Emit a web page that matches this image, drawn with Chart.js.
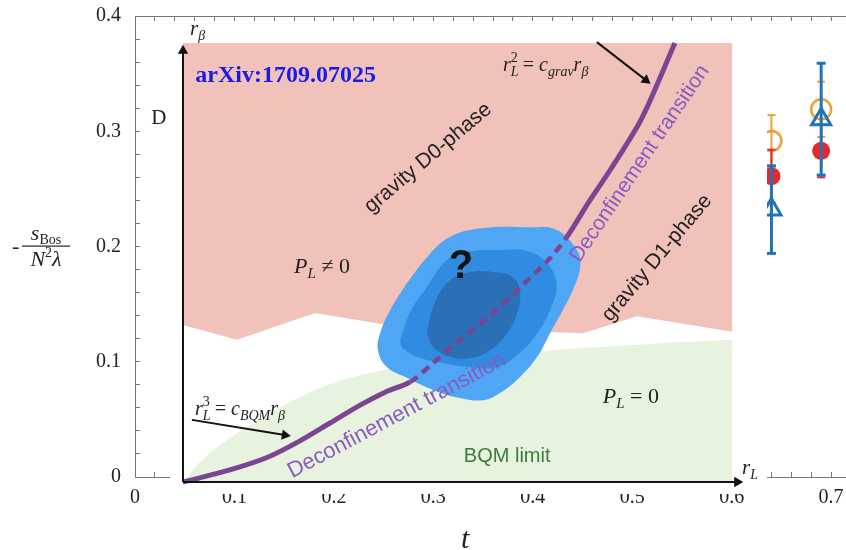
<!DOCTYPE html>
<html>
<head>
<meta charset="utf-8">
<script src="https://cdn.jsdelivr.net/npm/chart.js@4.4.1/dist/chart.umd.min.js"></script>
<style>
  html, body { margin: 0; padding: 0; background: #fff; overflow: hidden; }
  #wrap { position: relative; width: 846px; height: 550px; overflow: hidden; }
  #frameChart { position: absolute; left: 0; top: 0; }
  #phaseChart { position: absolute; left: 170px; top: 21px; background: #fff; }
</style>
</head>
<body>
<div id="wrap">
  <canvas id="frameChart" width="880" height="550"></canvas>
  <canvas id="phaseChart" width="597" height="473"></canvas>
</div>
<script>
// lattice points: temperature t, value and error of each series
const tValues = [0.64, 0.69];
const orangeVals = [0.2915, 0.319];
const orangeErrs = [0.0225, 0.024];
const redVals = [0.261, 0.283];
const redErrs = [0.023, 0.023];
const blueVals = [0.232, 0.3105];
const blueErrs = [0.038, 0.0485];

const xTickLabels = ["0", "0.1", "0.2", "0.3", "0.4", "0.5", "0.6", "0.7"];
const yTickLabels = ["0", "0.1", "0.2", "0.3", "0.4"];

// phase diagram sketch, in (r_L, r_beta) units of the inset axes
const gravityRegion = [[0, 0.982], [0.986, 0.982], [0.986, 0.336], [0.815, 0.371], [0.718, 0.333],
  [0.390, 0.347], [0.237, 0.378], [0.097, 0.318], [0, 0.351], [0, 0.982]];
const bqmEdge = [[0, 0], [0.0305, 0.0447], [0.0664, 0.0828], [0.120, 0.1275], [0.192, 0.179],
  [0.246, 0.210], [0.300, 0.233], [0.390, 0.257], [0.479, 0.273], [0.605, 0.289],
  [0.718, 0.300], [0.838, 0.309], [0.986, 0.318]];
const blobOuter = [[0.402, 0.445], [0.438, 0.503], [0.479, 0.548], [0.539, 0.568], [0.623, 0.570],
  [0.671, 0.564], [0.707, 0.519], [0.713, 0.481], [0.700, 0.430], [0.682, 0.385], [0.659, 0.333],
  [0.636, 0.280], [0.605, 0.235], [0.569, 0.199], [0.539, 0.183], [0.497, 0.188], [0.449, 0.206],
  [0.402, 0.233], [0.366, 0.257], [0.350, 0.295], [0.354, 0.333], [0.372, 0.385], [0.402, 0.445]];
const blobMiddle = [[0.390, 0.318], [0.408, 0.380], [0.438, 0.436], [0.474, 0.497], [0.510, 0.515],
  [0.569, 0.519], [0.623, 0.515], [0.659, 0.481], [0.671, 0.436], [0.659, 0.385], [0.636, 0.333],
  [0.605, 0.289], [0.564, 0.257], [0.515, 0.257], [0.467, 0.266], [0.420, 0.280], [0.393, 0.302],
  [0.390, 0.318]];
const blobInner = [[0.438, 0.333], [0.449, 0.391], [0.474, 0.445], [0.510, 0.468], [0.557, 0.470],
  [0.592, 0.459], [0.605, 0.423], [0.600, 0.378], [0.582, 0.333], [0.551, 0.295], [0.515, 0.277],
  [0.479, 0.280], [0.449, 0.302], [0.438, 0.333]];
const transitionLine = [[0, 0], [0.084, 0.027], [0.153, 0.056], [0.210, 0.092], [0.264, 0.132],
  [0.318, 0.172], [0.363, 0.201], [0.408, 0.224], [0.449, 0.266], [0.497, 0.318], [0.557, 0.378],
  [0.610, 0.441], [0.659, 0.501], [0.689, 0.548], [0.731, 0.631], [0.767, 0.698], [0.820, 0.805],
  [0.847, 0.877], [0.883, 0.982]];
const dashedFrom = 7, dashedTo = 13;
const rBetaAxis = [[0, 0], [0, 0.965]];
const rLAxis = [[0, 0], [0.995, 0]];
const gravArrow = [[0.743, 0.984], [0.831, 0.899]];
const bqmArrow = [[0.016, 0.139], [0.183, 0.105]];

const pts = arr => arr.map(p => ({ x: p[0], y: p[1] }));

function errorBar(vals, errs) {
    const out = [];
    tValues.forEach((t, i) => {
        out.push({ x: t, y: vals[i] - errs[i] }, { x: t, y: vals[i] + errs[i] }, { x: t, y: NaN });
    });
    return out;
}

function markers(vals) {
    return tValues.map((t, i) => ({ x: t, y: vals[i] }));
}

function tickLabel(v, labels) {
    const k = Math.round(v * 10);
    return Math.abs(v * 10 - k) < 1e-6 && labels[k] !== undefined ? labels[k] : "";
}

const serif = "Liberation Serif";
const sans = "Liberation Sans";
const I = s => `italic ${s}px "${serif}"`;
const R = s => `${s}px "${serif}"`;

// draws a run of text pieces [text, font, dy, noAdvance] starting at x (or centred on x)
function mathRun(ctx, pieces, x, y, centred) {
    let w = 0;
    pieces.forEach(p => { ctx.font = p[1]; if (!p[3]) w += ctx.measureText(p[0]).width; });
    let cx = centred ? x - w / 2 : x;
    ctx.textAlign = "left";
    ctx.textBaseline = "alphabetic";
    pieces.forEach(p => {
        ctx.font = p[1];
        ctx.fillText(p[0], cx, y + (p[2] || 0));
        if (!p[3]) cx += ctx.measureText(p[0]).width;
    });
}

const frameTicks = {
    type: "linear",
    min: 0,
    border: { color: "#777", width: 1 },
    grid: { drawOnChartArea: false, tickLength: -5, color: "#777" }
};

const frameText = {
    id: "frameText",
    afterDraw(chart) {
        const ctx = chart.ctx;
        const { x, y } = chart.scales;
        const mid = y.getPixelForValue(0.2);
        ctx.save();
        ctx.fillStyle = "#222";
        // vertical axis title
        ctx.font = R(22);
        ctx.textAlign = "left";
        ctx.fillText("-", 12, mid + 6);
        mathRun(ctx, [["s", I(22)], ["Bos", R(14), 4]], 46, mid - 7, true);
        ctx.fillRect(22, mid - 1, 48, 1.2);
        mathRun(ctx, [["N", I(22)], ["2", R(14), -9], ["\u03bb", I(22)]], 46, mid + 19, true);
        // horizontal axis title
        ctx.font = I(30);
        ctx.textAlign = "center";
        ctx.fillText("t", x.getPixelForValue(0.332), 548);
        ctx.font = R(21);
        ctx.fillText("D", x.getPixelForValue(0.024), y.getPixelForValue(0.306));
        ctx.restore();
    }
};

new Chart(document.getElementById("frameChart"), {
    type: "scatter",
    data: {
        datasets: [
            { data: errorBar(orangeVals, orangeErrs), showLine: true, spanGaps: false, borderColor: "#eaa23a",
              borderWidth: 2, pointStyle: "line", pointRadius: 4, pointBorderColor: "#eaa23a", pointBorderWidth: 2, order: 6 },
            { data: markers(orangeVals), pointStyle: "circle", pointRadius: 10, pointBorderWidth: 2.5,
              pointBorderColor: "#eaa23a", pointBackgroundColor: "rgba(0,0,0,0)", order: 5 },
            { data: errorBar(redVals, redErrs), showLine: true, spanGaps: false, borderColor: "#e8262b",
              borderWidth: 2, pointStyle: "line", pointRadius: 4, pointBorderColor: "#e8262b", pointBorderWidth: 2, order: 4 },
            { data: markers(redVals), pointStyle: "circle", pointRadius: 9, pointBorderWidth: 0,
              pointBackgroundColor: "#e8262b", order: 3 },
            { data: errorBar(blueVals, blueErrs), showLine: true, spanGaps: false, borderColor: "#2174b4",
              borderWidth: 3, pointStyle: "line", pointRadius: 4.5, pointBorderColor: "#2174b4", pointBorderWidth: 3, order: 2 },
            { data: markers(blueVals), pointStyle: "triangle", pointRadius: 11, pointBorderWidth: 3,
              pointBorderColor: "#2174b4", pointBackgroundColor: "rgba(0,0,0,0)", order: 1 }
        ]
    },
    options: {
        responsive: false,
        animation: false,
        events: [],
        layout: { padding: { left: 0, right: 29, top: 0, bottom: 0 } },
        plugins: { legend: { display: false }, tooltip: { enabled: false } },
        scales: {
            x: {
                ...frameTicks,
                position: "bottom",
                max: 0.72,
                afterFit: s => { s.height = 73; },
                ticks: { stepSize: 0.02, maxTicksLimit: 100, autoSkip: false, maxRotation: 0, padding: 14,
                         color: "#222", font: { family: serif, size: 20 }, callback: v => tickLabel(v, xTickLabels) }
            },
            xTop: {
                ...frameTicks,
                axis: "x",
                position: "top",
                max: 0.72,
                afterFit: s => { s.height = 16; },
                ticks: { stepSize: 0.02, maxTicksLimit: 100, autoSkip: false, callback: () => "" }
            },
            y: {
                ...frameTicks,
                position: "left",
                max: 0.4,
                // fixed width; the label padding must not push the plot area down
                afterFit: s => { s.width = 135; s.paddingTop = 0; s.paddingBottom = 0; },
                ticks: { stepSize: 0.02, maxTicksLimit: 100, autoSkip: false, padding: 19,
                         color: "#222", font: { family: serif, size: 20 }, callback: v => tickLabel(v, yTickLabels) }
            }
        }
    },
    plugins: [frameText]
});

const phaseText = {
    id: "phaseText",
    afterDatasetsDraw(chart) {
        const ctx = chart.ctx;
        const { x, y } = chart.scales;
        const px = u => x.getPixelForValue(u);
        const py = v => y.getPixelForValue(v);
        const turned = (text, u, v, deg, font, color) => {
            ctx.save();
            ctx.translate(px(u), py(v));
            ctx.rotate(deg * Math.PI / 180);
            ctx.font = font;
            ctx.fillStyle = color;
            ctx.textAlign = "center";
            ctx.textBaseline = "middle";
            ctx.fillText(text, 0, 0);
            ctx.restore();
        };
        ctx.save();
        ctx.fillStyle = "#1a1ae6";
        ctx.font = `bold 24px "${serif}"`;
        ctx.textAlign = "left";
        ctx.textBaseline = "alphabetic";
        ctx.fillText("arXiv:1709.07025", px(0.022), py(0.895));

        ctx.fillStyle = "#222";
        mathRun(ctx, [["r", I(21)], ["\u03b2", I(14), 5]], px(0.0126), py(1.0), false);
        mathRun(ctx, [["r", I(21)], ["L", I(14), 5]], px(1.0036), py(0.018), false);
        mathRun(ctx, [["P", I(22)], ["L", I(15), 5], [" \u2260 0", R(22)]], px(0.2496), py(0.468), true);
        mathRun(ctx, [["P", I(22)], ["L", I(15), 5], [" = 0", R(22)]], px(0.804), py(0.177), true);
        mathRun(ctx, [["r", I(20)], ["L", I(14), 5, true], ["2", R(14), -9], [" = ", R(20)], ["c", I(20)],
                      ["grav", I(14), 5], ["r", I(20)], ["\u03b2", I(14), 5]], px(0.5745), py(0.919), false);
        mathRun(ctx, [["r", I(20)], ["L", I(14), 5, true], ["3", R(14), -9], [" = ", R(20)], ["c", I(20)],
                      ["BQM", I(14), 5], ["r", I(20)], ["\u03b2", I(14), 5]], px(0.0215), py(0.150), false);

        turned("gravity D0-phase", 0.440, 0.725, -40, `21px "${sans}"`, "#222");
        turned("gravity D1-phase", 0.851, 0.501, -50, `21px "${sans}"`, "#222");
        turned("Deconfinement transition", 0.384, 0.148, -28, `22px "${sans}"`, "#8a5ac0");
        turned("Deconfinement transition", 0.820, 0.712, -56, `21px "${sans}"`, "#8a5ac0");
        turned("BQM limit", 0.582, 0.056, 0, `20px "${sans}"`, "#3c7d3c");
        turned("?", 0.499, 0.481, 0, `bold 40px "${sans}"`, "#111");
        ctx.restore();
    }
};

const region = (data, color, order, extra) => Object.assign({
    data: pts(data), showLine: true, pointRadius: 0, borderWidth: 0, borderColor: "rgba(0,0,0,0)",
    backgroundColor: color, fill: "shape", order: order
}, extra || {});

// arrow: the tip sits on the middle point; a repeated end point keeps the layout overflow small
const arrow = (data, rotation, width, order) => ({
    data: pts(data.concat([data[data.length - 1]])), showLine: true, borderColor: "#111", borderWidth: width,
    pointRadius: [0, 6, 0], pointStyle: "triangle", pointRotation: [0, rotation, 0],
    pointBackgroundColor: "#111", pointBorderWidth: 0, order: order
});

new Chart(document.getElementById("phaseChart"), {
    type: "scatter",
    data: {
        datasets: [
            region(gravityRegion, "#f0c2ba", 9),
            region(bqmEdge, "#e7f2df", 8, { fill: "origin", tension: 0.3 }),
            region(blobOuter, "#4ea6f5", 7, { tension: 0.4 }),
            region(blobMiddle, "#2f8ce0", 6, { tension: 0.4 }),
            region(blobInner, "#2b6fb6", 5, { tension: 0.4 }),
            {
                data: pts(transitionLine), showLine: true, pointRadius: 0, borderColor: "#7b4592",
                borderWidth: 5, tension: 0.3, order: 4,
                segment: {
                    borderDash: c => (c.p0DataIndex >= dashedFrom && c.p0DataIndex < dashedTo) ? [9, 6] : undefined,
                    borderWidth: c => (c.p0DataIndex >= dashedFrom && c.p0DataIndex < dashedTo) ? 4.5 : 5
                }
            },
            arrow(rBetaAxis, 0, 2, 3),
            arrow(rLAxis, 90, 2, 3),
            arrow(gravArrow, 127.7, 2, 2),
            arrow(bqmArrow, 99.3, 2, 2)
        ]
    },
    options: {
        responsive: false,
        animation: false,
        events: [],
        layout: { padding: 0 },
        elements: { point: { hoverRadius: 0, borderWidth: 0 } },
        plugins: { legend: { display: false }, tooltip: { enabled: false } },
        scales: {
            x: { type: "linear", display: false, min: -0.02334, max: 1.04847 },
            y: { type: "linear", display: false, min: -0.02685, max: 1.03132 }
        }
    },
    plugins: [phaseText]
});
</script>
</body>
</html>
